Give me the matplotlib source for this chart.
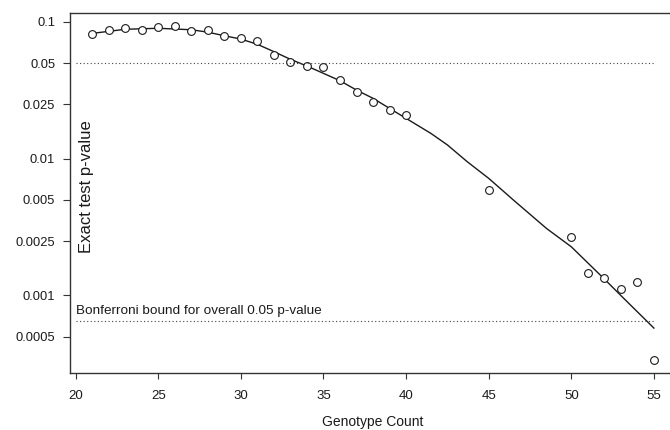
import numpy as np
import matplotlib
matplotlib.use("Agg")
import matplotlib.pyplot as plt

plt.rcParams['font.family'] = ['Liberation Sans', 'DejaVu Sans']

# observed exact-test p-values by genotype count
counts = [21, 22, 23, 24, 25, 26, 27, 28, 29, 30, 31, 32, 33, 34, 35, 36, 37, 38, 39, 40,
          45, 50, 51, 52, 53, 54, 55]
pvals = [0.0817, 0.0878, 0.0898, 0.0868, 0.0919, 0.0935, 0.0864, 0.0868, 0.0789, 0.0763,
         0.0721, 0.0576, 0.0511, 0.0476, 0.0468, 0.0375, 0.0307, 0.0259, 0.0225, 0.0208,
         0.00589, 0.00266, 0.00147, 0.00134, 0.00112, 0.00126, 0.000337]

# smooth fitted curve
fit_x = [21, 23, 25, 27, 28, 29, 30, 31, 32, 33, 34, 35, 36, 37, 38, 39, 40, 41.5, 42.5,
         43.7, 45, 46.5, 48.5, 50, 52, 53, 54, 55]
fit_p = [0.0823, 0.0882, 0.0897, 0.0875, 0.0840, 0.0791, 0.0748, 0.0685, 0.0605, 0.0532,
         0.0475, 0.0420, 0.0371, 0.0317, 0.0276, 0.0233, 0.0197, 0.0153, 0.0126, 0.0095,
         0.00718, 0.00498, 0.00309, 0.00227, 0.00132, 0.00100, 0.00076, 0.000578]

ALPHA = 0.05
BONFERRONI = 0.00065
yticks = [0.1, 0.05, 0.025, 0.01, 0.005, 0.0025, 0.001, 0.0005]
ytick_labels = ["0.1", "0.05", "0.025", "0.01", "0.005", "0.0025", "0.001", "0.0005"]
xticks = [20, 25, 30, 35, 40, 45, 50, 55]

fig = plt.figure(figsize=(6.7, 4.3), dpi=100)
ax = fig.add_axes([0.1041, 0.1314, 0.9054, 0.8395])

ink = '#1a1a1a'
ax.plot(fit_x, fit_p, color=ink, lw=1.0)
ax.plot(counts, pvals, 'o', mfc='white', mec=ink, ms=5.6, mew=0.8)

dots = (0, (1, 2.2))
ax.hlines([ALPHA, BONFERRONI], 20, 55, colors='#444444', linestyles=[dots, dots], lw=0.8)
ax.text(20, 0.00073, "Bonferroni bound for overall 0.05 p-value", fontsize=9.7,
        color=ink, ha='left', va='baseline')

ax.set_yscale('log')
ax.set_xlim(19.64, 56.36)
ax.set_ylim(10 ** -3.570, 10 ** -0.932)
ax.set_yticks(yticks)
ax.set_yticklabels(ytick_labels)
ax.minorticks_off()
ax.set_xticks(xticks)
ax.tick_params(axis='y', length=5, width=0.8, pad=5.5, labelsize=9.3, colors='#333333',
               labelcolor=ink)
ax.tick_params(axis='x', length=4, width=0.8, pad=8, labelsize=9.5, colors='#333333',
               labelcolor=ink)
for s in ax.spines.values():
    s.set_color('#333333')
    s.set_linewidth(1.0)

ax.text(0.0284, 0.519, "Exact test p-value", transform=ax.transAxes, rotation=90,
        ha='center', va='center', fontsize=12, color=ink)
ax.set_xlabel("Genotype Count", fontsize=10, color=ink, labelpad=9)

fig.savefig("out.png", dpi=100)
